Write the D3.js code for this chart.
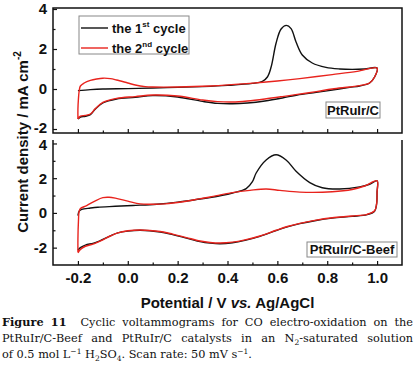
<!DOCTYPE html>
<html>
<head>
<meta charset="utf-8">
<script src="https://d3js.org/d3.v7.min.js"></script>
<style>
  body { margin: 0; background: #fff; }
  svg { display: block; }
  .tick text { font-family: "Liberation Sans", Arial, sans-serif; font-weight: bold; font-size: 15px; fill: #111; }
  .tick line { stroke: #111; stroke-width: 1.2; }
  .frame { fill: none; stroke: #111; stroke-width: 1.5; }
  .cv { fill: none; stroke-width: 1.4; stroke-linejoin: round; }
  .title { font-family: "Liberation Sans", Arial, sans-serif; font-weight: bold; font-size: 15px; fill: #111; }
  .small { font-family: "Liberation Sans", Arial, sans-serif; font-weight: bold; font-size: 13px; fill: #111; }
  .caption { font-family: "DejaVu Serif", "Liberation Serif", serif; font-size: 11.3px; fill: #111; }
</style>
</head>
<body>
<div id="chart"></div>
<script>
// DATA  [potential V, current density mA cm-2]
// PtRuIr/C
var topCycle1 = [[-0.2,-0.08],[-0.15,-0.03],[-0.1,0.0],[0,0.02],[0.1,0.05],[0.2,0.08],[0.3,0.12],[0.4,0.18],[0.5,0.28],[0.54,0.38],
  [0.56,0.6],[0.575,1.1],[0.595,2.3],[0.615,3.0],[0.636,3.18],[0.655,3.02],[0.675,2.35],[0.7,1.7],[0.74,1.3],[0.795,1.08],
  [0.85,1.0],[0.9,0.98],[0.95,1.0],[1.0,1.05],[0.99,0.6],[0.97,0.3],[0.93,0.15],[0.89,0.08],[0.82,-0.05],[0.756,-0.17],
  [0.68,-0.3],[0.62,-0.45],[0.55,-0.6],[0.48,-0.7],[0.42,-0.74],[0.36,-0.72],[0.3,-0.62],[0.2,-0.4],[0.1,-0.33],[0.03,-0.42],
  [-0.045,-0.5],[-0.1,-0.7],[-0.13,-1.0],[-0.15,-1.28],[-0.17,-1.36],[-0.19,-1.4],[-0.2,-1.5]]
var topCycle2 = [[-0.2,-1.5],[-0.2,-1.0],[-0.198,-0.5],[-0.195,-0.1],[-0.19,0.15],[-0.175,0.3],[-0.15,0.43],[-0.125,0.5],[-0.1,0.54],
  [-0.07,0.52],[-0.045,0.45],[0,0.3],[0.03,0.2],[0.07,0.12],[0.1,0.1],[0.2,0.1],[0.33,0.15],[0.49,0.28],[0.6,0.4],[0.69,0.52],
  [0.82,0.72],[0.92,0.88],[1.0,1.05],[0.99,0.6],[0.97,0.3],[0.93,0.17],[0.89,0.1],[0.82,0.0],[0.756,-0.13],[0.68,-0.27],
  [0.62,-0.38],[0.55,-0.5],[0.48,-0.6],[0.42,-0.65],[0.36,-0.63],[0.3,-0.55],[0.2,-0.35],[0.1,-0.3],[0.03,-0.38],[-0.045,-0.47],
  [-0.1,-0.67],[-0.13,-0.98],[-0.15,-1.25],[-0.17,-1.32],[-0.19,-1.36],[-0.2,-1.5]]
// PtRuIr/C-Beef
var bottomCycle1 = [[-0.2,-0.15],[-0.195,0.1],[-0.185,0.2],[-0.15,0.28],[-0.12,0.33],[-0.05,0.38],[0.02,0.43],[0.116,0.5],[0.2,0.62],
  [0.29,0.8],[0.33,0.88],[0.42,1.15],[0.475,1.4],[0.5,1.8],[0.515,2.3],[0.555,3.05],[0.595,3.35],[0.635,3.05],[0.675,2.4],
  [0.73,1.75],[0.78,1.45],[0.85,1.38],[0.93,1.5],[0.97,1.65],[1.0,1.85],[1.0,1.2],[0.998,0.5],[0.99,0.1],[0.96,-0.1],[0.9,-0.2],
  [0.82,-0.3],[0.75,-0.45],[0.69,-0.62],[0.64,-0.8],[0.595,-1.02],[0.53,-1.35],[0.47,-1.58],[0.42,-1.72],[0.37,-1.78],[0.33,-1.74],
  [0.29,-1.65],[0.235,-1.45],[0.18,-1.25],[0.13,-1.1],[0.05,-1.0],[0.0,-1.05],[-0.04,-1.15],[-0.07,-1.32],[-0.1,-1.52],[-0.12,-1.65],
  [-0.14,-1.75],[-0.17,-1.85],[-0.19,-2.0],[-0.2,-2.15]]
var bottomCycle2 = [[-0.2,-2.25],[-0.2,-1.5],[-0.198,-0.5],[-0.195,0.1],[-0.19,0.25],[-0.165,0.42],[-0.13,0.7],[-0.1,0.88],[-0.075,0.9],
  [-0.05,0.85],[0,0.68],[0.05,0.52],[0.1,0.5],[0.15,0.52],[0.22,0.64],[0.29,0.82],[0.33,0.92],[0.42,1.17],[0.49,1.3],[0.555,1.38],
  [0.61,1.3],[0.69,1.2],[0.82,1.22],[0.9,1.35],[0.95,1.55],[1.0,1.85],[1.0,1.2],[0.998,0.5],[0.99,0.12],[0.96,-0.08],[0.9,-0.18],
  [0.82,-0.28],[0.75,-0.43],[0.69,-0.6],[0.64,-0.78],[0.595,-1.0],[0.53,-1.33],[0.47,-1.55],[0.42,-1.68],[0.37,-1.73],[0.33,-1.7],
  [0.29,-1.62],[0.235,-1.42],[0.18,-1.22],[0.13,-1.07],[0.05,-0.98],[0.0,-1.03],[-0.04,-1.15],[-0.07,-1.33],[-0.1,-1.55],[-0.12,-1.68],
  [-0.14,-1.8],[-0.17,-1.92],[-0.19,-2.1],[-0.2,-2.3]]

var xTicks = [-0.2, 0.0, 0.2, 0.4, 0.6, 0.8, 1.0]
var xMinorTicks = [-0.1, 0.1, 0.3, 0.5, 0.7, 0.9]
var yTicks = [-2, 0, 2, 4]
var yMinorTicks = [-1, 1, 3]
var legendNames = ['the 1', 'the 2']
var legendSups = ['st', 'nd']
var panelNames = ['PtRuIr/C', 'PtRuIr/C-Beef']

//LAYOUT
var W = 417, H = 369
var PLOT = { LEFT: 53, RIGHT: 402 }
var TOP = { Y0: 8, Y1: 133 }
var BOT = { Y0: 140, Y1: 265 }
var BLACK = '#111', RED = '#e8231d'

const svg = d3.select('#chart').append('svg')
  .attr('width', W).attr('height', H)
svg.append('rect').attr('width', W).attr('height', H).attr('fill', '#fff')

//SCALES
const x = d3.scaleLinear().domain([-0.3, 1.1]).range([PLOT.LEFT, PLOT.RIGHT])
const yTop = d3.scaleLinear().domain([-2.2, 4.05]).range([TOP.Y1, TOP.Y0])
const yBot = d3.scaleLinear().domain([-3.0, 4.2]).range([BOT.Y1, BOT.Y0])

function drawPanel(y, y0, y1, c1, c2, showXLabels, fullBox) {
  const g = svg.append('g')

  // y axis (inward ticks)
  const gy = g.append('g').attr('transform', `translate(${PLOT.LEFT},0)`)
    .call(d3.axisLeft(y).tickValues(yTicks).tickSize(-4).tickPadding(6).tickFormat(d3.format('d')))
    .call(a => a.select('.domain').remove())
  // keep the -2 of the upper panel and the 4 of the lower panel apart
  gy.selectAll('.tick text').attr('dy', d => fullBox && d == -2 ? '0.22em' : (!fullBox && d == 4 ? '0.42em' : '0.32em'))
  g.append('g').attr('transform', `translate(${PLOT.LEFT},0)`)
    .call(d3.axisLeft(y).tickValues(yMinorTicks).tickSize(-2.5).tickFormat(''))
    .call(a => a.select('.domain').remove())

  // x axis
  g.append('g').attr('transform', `translate(0,${y1})`)
    .call(d3.axisBottom(x).tickValues(xTicks).tickSize(-4).tickPadding(7)
      .tickFormat(showXLabels ? d3.format('.1f') : ''))
    .call(a => a.select('.domain').remove())
  g.append('g').attr('transform', `translate(0,${y1})`)
    .call(d3.axisBottom(x).tickValues(xMinorTicks).tickSize(-2.5).tickFormat(''))
    .call(a => a.select('.domain').remove())

  g.selectAll('.tick text').text(function() { return this.textContent.replace('\u2212', '-') })

  // frame
  if (fullBox) {
    g.append('rect').attr('class', 'frame')
      .attr('x', PLOT.LEFT).attr('y', y0).attr('width', PLOT.RIGHT - PLOT.LEFT).attr('height', y1 - y0)
  } else {
    g.append('path').attr('class', 'frame')
      .attr('d', `M${PLOT.LEFT},${y0}V${y1}H${PLOT.RIGHT}V${y0}`)
  }

  const line = d3.line().x(d => x(d[0])).y(d => y(d[1])).curve(d3.curveCatmullRom.alpha(0.5))
  g.append('path').attr('class', 'cv').attr('stroke', BLACK).attr('d', line(c1))
  g.append('path').attr('class', 'cv').attr('stroke', RED).attr('d', line(c2))
  return g
}

drawPanel(yTop, TOP.Y0, TOP.Y1, topCycle1, topCycle2, false, true)
drawPanel(yBot, BOT.Y0, BOT.Y1, bottomCycle1, bottomCycle2, true, false)

// LEGEND
const gLeg = svg.append('g')
gLeg.append('rect').attr('x', 79).attr('y', 16).attr('width', 110).attr('height', 38)
  .attr('fill', '#fff').attr('stroke', '#888').attr('stroke-width', 1)
legendNames.forEach((name, i) => {
  const ly = 28 + i * 20
  gLeg.append('line').attr('x1', 81).attr('x2', 108).attr('y1', ly).attr('y2', ly)
    .attr('stroke', i == 0 ? BLACK : RED).attr('stroke-width', 1.4)
  const t = gLeg.append('text').attr('class', 'small').attr('x', 112).attr('y', ly + 5)
  t.append('tspan').text(name)
  t.append('tspan').text(legendSups[i]).attr('font-size', '8px').attr('baseline-shift', '6px')
  t.append('tspan').text(' cycle')
})

// PANEL LABELS
const labelBoxes = [[326, 102, 54, 16], [307, 242, 90, 15]]
panelNames.forEach((name, i) => {
  const b = labelBoxes[i]
  svg.append('rect').attr('x', b[0]).attr('y', b[1]).attr('width', b[2]).attr('height', b[3])
    .attr('fill', '#fff').attr('stroke', '#888').attr('stroke-width', 1)
  svg.append('text').attr('class', 'small').attr('x', b[0] + b[2] / 2).attr('y', b[1] + b[3] / 2 + 4.5)
    .attr('text-anchor', 'middle').text(name)
})

// AXIS TITLES
const yTitle = svg.append('text').attr('class', 'title')
  .attr('transform', 'translate(28,142) rotate(-90)').attr('text-anchor', 'middle')
yTitle.append('tspan').text('Current density / mA cm')
yTitle.append('tspan').text('-2').attr('font-size', '10px').attr('baseline-shift', '7px')

const xTitle = svg.append('text').attr('class', 'title')
  .attr('x', (PLOT.LEFT + PLOT.RIGHT) / 2).attr('y', 308).attr('text-anchor', 'middle')
xTitle.append('tspan').text('Potential / V ')
xTitle.append('tspan').text('vs.').attr('font-style', 'italic')
xTitle.append('tspan').text(' Ag/AgCl')

// CAPTION (justified by word spacing)
function capLine(yy, parts, len) {
  const t = svg.append('text').attr('class', 'caption').attr('x', 2).attr('y', yy)
  parts.forEach(p => {
    const s = t.append('tspan').text(p[0])
    if (p[1] == 'b') s.attr('font-weight', 'bold')
    if (p[1] == 'sup') s.attr('font-size', '7.5px').attr('baseline-shift', '4px')
    if (p[1] == 'sub') s.attr('font-size', '7.5px').attr('baseline-shift', '-2.5px')
  })
  if (len) {
    const natural = t.node().getComputedTextLength()
    const spaces = parts.map(p => p[0]).join('').split(/[ \u00a0]/).length - 1
    t.attr('word-spacing', ((len - natural) / spaces).toFixed(2))
  }
}
capLine(326, [['Figure 11', 'b'], ['\u00a0 Cyclic voltammograms for CO electro-oxidation on the']], 411)
capLine(342, [['PtRuIr/C-Beef and PtRuIr/C catalysts in an N'], ['2', 'sub'], ['-saturated solution']], 411)
capLine(358, [['of 0.5 mol L'], ['\u22121', 'sup'], [' H'], ['2', 'sub'], ['SO'], ['4', 'sub'], ['. Scan rate: 50 mV s'], ['\u22121', 'sup'], ['.']])
</script>
</body>
</html>
